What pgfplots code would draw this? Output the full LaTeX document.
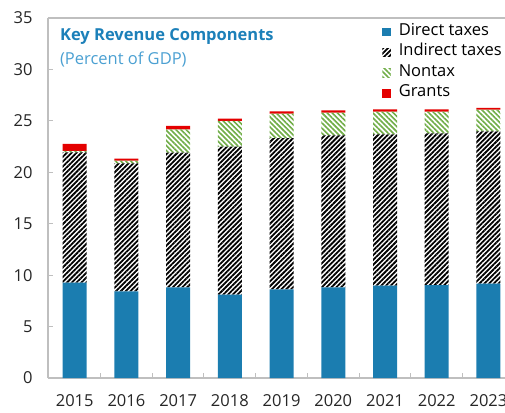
\documentclass[border=0pt]{standalone}
\usepackage{fontspec}
\setmainfont{Open Sans}
\usepackage{pgfplots}
\pgfplotsset{compat=1.18}
\usetikzlibrary{patterns.meta}
\definecolor{dblue}{RGB}{27,125,176}
\definecolor{tblue}{RGB}{28,128,185}
\definecolor{lblue}{RGB}{75,160,210}
\definecolor{ngreen}{RGB}{112,173,71}
\definecolor{gred}{RGB}{228,0,0}
\definecolor{axgray}{RGB}{191,191,191}
\newcommand\f{\fontsize{16.5}{19.8}\selectfont}
\begin{document}
\begin{tikzpicture}
\begin{axis}[
  scale only axis, width=457pt, height=360pt,
  ybar stacked, bar width=24pt,
  xmin=-0.516, xmax=8.32, ymin=0, ymax=35,
  clip=false,
  xtick={0,1,2,3,4,5,6,7,8},
  xticklabels={2015,2016,2017,2018,2019,2020,2021,2022,2023},
  minor xtick={0.5,1.5,2.5,3.5,4.5,5.5,6.5,7.5},
  ytick={0,5,10,15,20,25,30,35},
  axis x line*=bottom, axis y line*=left,
  axis line style={axgray, line width=1.2pt, -},
  tick align=inside,
  major x tick style={draw=none},
  minor x tick style={axgray, line width=1pt},
  y tick style={axgray, line width=1pt},
  major tick length=5pt, minor tick length=5pt,
  /pgf/number format/assume math mode=true,
  every tick label/.append style={font=\f, text=black!85},
  yticklabel style={xshift=-12pt},
  xticklabel style={yshift=-13.5pt},
  legend style={at={(axis description cs:0.731,0.992)}, anchor=north west,
    draw=none, fill=none, font=\f, inner sep=0pt, row sep=0pt,
    nodes={inner sep=0pt, text height=14pt, text depth=6.5pt},
    /tikz/every odd column/.style={column sep=8pt}},
  legend cell align=left,
  legend image code/.code={\fill[#1,draw=none] (0pt,-5pt) rectangle (8.5pt,3.5pt);},
]
\addplot[fill=dblue, draw=none] coordinates {(0,9.27) (1,8.43) (2,8.82) (3,8.10) (4,8.62) (5,8.82) (6,8.98) (7,9.04) (8,9.17)};
\addplot[pattern={Lines[angle=45,distance=3.4pt,line width=1.8pt]}, pattern color=black, draw=none] coordinates {(0,12.67) (1,12.44) (2,13.08) (3,14.39) (4,14.71) (5,14.77) (6,14.71) (7,14.75) (8,14.81)};
\addplot[pattern={Lines[angle=-45,distance=3.6pt,line width=1.6pt]}, pattern color=ngreen, draw=none] coordinates {(0,0.15) (1,0.26) (2,2.27) (3,2.50) (4,2.37) (5,2.21) (6,2.21) (7,2.11) (8,2.11)};
\addplot[fill=gred, draw=none] coordinates {(0,0.68) (1,0.19) (2,0.33) (3,0.22) (4,0.23) (5,0.22) (6,0.22) (7,0.22) (8,0.16)};
\legend{Direct taxes,Indirect taxes,Nontax,Grants}
\draw[axgray, line width=1.2pt] (rel axis cs:0,1) -- (rel axis cs:1,1);
\node[anchor=base west, font=\f\bfseries, text=tblue, inner sep=0pt] at (axis description cs:0.026,0.937) {Key Revenue Components};
\node[anchor=base west, font=\f, text=lblue, inner sep=0pt] at (axis description cs:0.026,0.872) {(Percent of GDP)};
\coordinate (bl) at (rel axis cs:0,0);
\end{axis}
\pgfresetboundingbox
\useasboundingbox (bl) ++(-48pt,-34pt) rectangle ++(505pt,412pt);
\end{tikzpicture}
\end{document}
